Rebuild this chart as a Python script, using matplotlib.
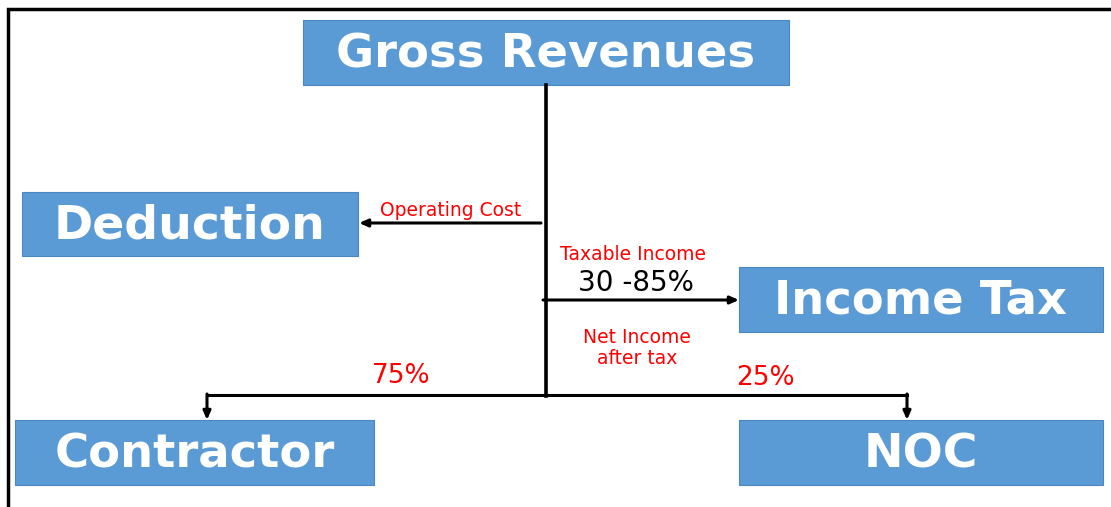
import matplotlib.pyplot as plt
from matplotlib.patches import Rectangle

# boxes: label, (left, top, right, bottom) in pixel space of the slide
box_labels = ["Gross Revenues", "Deduction", "Income Tax", "Contractor", "NOC"]
box_extents = [(303, 20, 789, 85), (22, 192, 358, 256), (739, 267, 1103, 332),
               (15, 420, 374, 485), (739, 420, 1103, 485)]
box_sizes = [33.5, 34, 33.5, 33.5, 34]

flow_labels = ["Operating Cost", "Taxable Income", "Net Income\nafter tax"]
share_labels = ["75%", "25%"]
tax_range = "30 -85%"

BLUE = "#5b9bd5"
RED = "#ff0000"
FONT = "DejaVu Sans"

fig = plt.figure(figsize=(11.11, 5.07), dpi=100)
ax = fig.add_axes([0, 0, 1, 1])
ax.set_xlim(0, 1111)
ax.set_ylim(507, 0)
ax.axis("off")

# slide frame (left and top edges visible)
ax.plot([8, 8, 1111], [507, 9, 9], color="black", lw=2.5, solid_joinstyle="miter")

for label, (l, t, r, b), fs in zip(box_labels, box_extents, box_sizes):
    ax.add_patch(Rectangle((l, t), r - l, b - t, facecolor=BLUE,
                           edgecolor="#4a86bf", lw=0.8))
    ax.text((l + r) / 2, (t + b) / 2 + 2, label, color="white", fontsize=fs,
            fontweight="bold", family=FONT, ha="center", va="center")

# connectors
lw = 2.2
arrow = dict(arrowstyle="-|>,head_length=0.5,head_width=0.22", color="black", lw=lw,
             shrinkA=0, shrinkB=0)
ax.plot([546, 546], [85, 396], color="black", lw=2.6)
ax.annotate("", xy=(359, 223), xytext=(541, 223), arrowprops=arrow)
ax.annotate("", xy=(739, 300), xytext=(543, 300), arrowprops=arrow)
ax.plot([207, 907], [395, 395], color="black", lw=lw)
ax.annotate("", xy=(207, 420), xytext=(207, 394), arrowprops=arrow)
ax.annotate("", xy=(907, 420), xytext=(907, 394), arrowprops=arrow)

# flow labels
ax.text(451, 211, flow_labels[0], color=RED, fontsize=13.5, family=FONT,
        ha="center", va="center")
ax.text(633, 255, flow_labels[1], color=RED, fontsize=13.5, family=FONT,
        ha="center", va="center")
ax.text(636, 283, tax_range, color="black", fontsize=20, family=FONT,
        ha="center", va="center")
ax.text(637, 348, flow_labels[2], color=RED, fontsize=13.5, family=FONT,
        ha="center", va="center", linespacing=1.1)
ax.text(401, 376, share_labels[0], color=RED, fontsize=19, family=FONT,
        ha="center", va="center")
ax.text(765, 378, share_labels[1], color=RED, fontsize=19, family=FONT,
        ha="center", va="center")

fig.savefig("out.png", dpi=100)
